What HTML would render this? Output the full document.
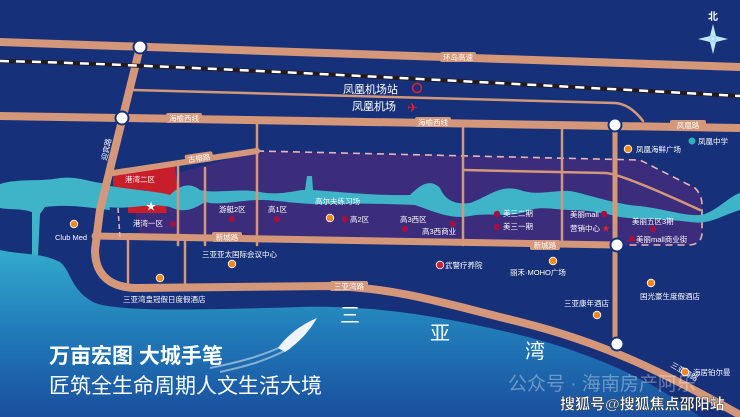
<!DOCTYPE html>
<html><head><meta charset="utf-8"><style>
html,body{margin:0;padding:0;background:#17307a;}
svg{display:block;font-family:"Liberation Sans","Noto Sans CJK SC",sans-serif;}
.l{fill:#fff;font-size:7.5px;}
.rl{fill:#fff;font-size:7.5px;}
</style></head><body>
<svg width="740" height="417" viewBox="0 0 740 417" xmlns="http://www.w3.org/2000/svg">
<defs>
<linearGradient id="sea" x1="0" y1="0" x2="0" y2="1">
<stop offset="0" stop-color="#33aacb"/><stop offset="0.5" stop-color="#207ab8"/><stop offset="1" stop-color="#1a4f9e"/>
</linearGradient>
<radialGradient id="cg"><stop offset="0" stop-color="#fff"/><stop offset="1" stop-color="#3fb0e0" stop-opacity="0"/></radialGradient>
</defs>
<rect width="740" height="417" fill="#17307a"/>
<path d="M0,184 C20,178 40,182 60,178 C80,176 95,184 105,183 L110,210 C90,208 70,204 45,207 L40,214 L38,255 L32,255 L32,212 C20,208 10,210 0,208 Z" fill="#3fb4c8"/>
<path d="M0,250 C20,255 40,252 60,262 C72,272 70,290 95,303 C120,312 200,310 300,307 C380,305 450,318 520,335 C600,355 660,385 700,417 L0,417 Z" fill="url(#sea)"/>
<path d="M178,173 L257,151 L640,160 L695,188 Q702,195 702,205 L702,232 Q702,244 690,245 L615,245 L140,238 L135,210 L178,200 Z" fill="#3b2d7c"/>
<path d="M257,151 L640,160 L695,188 Q702,195 702,205 L702,232 Q702,244 690,245 L625,245" fill="none" stroke="#e6b4b4" stroke-width="1.6" stroke-dasharray="7,5"/>
<path d="M113,172 L175,163 L178,198 L150,195 L145,190 L113,193 Z" fill="#c81e2c"/>
<path d="M128,205 C135,200 150,198 165,203 L167,213 L128,213 Z" fill="#c81e2c"/>
<path d="M105,185 C130,190 150,190 170,195 C180,185 190,182 200,190 C215,194 240,188 260,192 C280,196 295,190 305,190 L307,176 L312,176 L313,190 C340,192 380,196 410,195 C420,185 430,178 440,188 C445,200 455,205 470,203 C490,196 500,184 520,190 C540,197 560,188 575,192 C600,198 620,205 640,206 C670,210 690,218 705,214 C720,208 730,196 740,193 L740,210 C720,216 710,225 690,222 C660,218 640,220 620,217 C600,212 585,210 570,210 C555,210 540,205 525,212 C505,218 490,212 470,216 C450,220 430,210 415,205 C390,204 360,203 330,204 C300,205 280,200 260,200 C240,200 220,206 205,202 C190,212 180,212 170,207 C150,202 130,210 108,207 Z" fill="#3fb4c8"/>
<g stroke="#d4977a" fill="none" stroke-linecap="round">
<path d="M0,42 L740,67" stroke-width="8"/>
<path d="M0,116 L740,128" stroke-width="8"/>
<path d="M140,47 L100,210 L95,250 C95,275 110,287 135,288 L330,286 C400,288 450,305 520,322 C600,342 660,370 740,415" stroke-width="8"/>
<path d="M95,236 L615,245" stroke-width="7"/>
<path d="M113,173 L257,151" stroke-width="6"/>
<path d="M133,90 L615,103 Q630,104 643,121" stroke-width="2.5"/>
<path d="M615,125 L615,345" stroke-width="5"/>
<path d="M257,120 L257,245 M463,124 L463,245 M562,126 L562,245 M205,168 L205,245 M178,163 L178,245" stroke-width="2.5"/>
<path d="M463,170 L605,173 Q620,173 700,210" stroke-width="2.5"/>
<path d="M128,240 L128,287 M185,240 L185,287" stroke-width="2.5"/>
</g>
<path d="M118,208 L120,238" stroke="#e6b4b4" stroke-width="1.5" stroke-dasharray="5,3"/>
<path d="M0,61 C100,63 300,72 740,96" stroke="#231a1a" stroke-width="4" fill="none"/>
<path d="M0,61 C100,63 300,72 740,96" stroke="#fff" stroke-width="2.5" fill="none" stroke-dasharray="9,7"/>
<g fill="#fff" stroke="#17307a" stroke-width="2">
<circle cx="140" cy="47" r="6.5"/><circle cx="122" cy="118" r="6.5"/><circle cx="615" cy="125" r="6.5"/>
<circle cx="617" cy="245" r="6.5"/><circle cx="617" cy="344" r="6.5"/>
</g>
<g>
<rect x="440" y="52" width="36" height="10" rx="2" fill="#d4977a"/><text x="458" y="60" class="rl" text-anchor="middle">环岛高速</text>
<rect x="166" y="113" width="36" height="10" rx="2" fill="#d4977a"/><text x="184" y="121" class="rl" text-anchor="middle">海榆西线</text>
<rect x="415" y="117" width="36" height="10" rx="2" fill="#d4977a"/><text x="433" y="125" class="rl" text-anchor="middle">海榆西线</text>
<rect x="670" y="120" width="36" height="10" rx="2" fill="#d4977a"/><text x="688" y="128" class="rl" text-anchor="middle">凤凰路</text>
<rect x="185" y="153" width="28" height="10" rx="2" fill="#d4977a" transform="rotate(-8 199 158)"/><text x="199" y="161" class="rl" text-anchor="middle" transform="rotate(-8 199 158)">古榕路</text>
<rect x="212" y="232" width="30" height="10" rx="2" fill="#d4977a"/><text x="227" y="240" class="rl" text-anchor="middle">新城路</text>
<rect x="530" y="240" width="30" height="10" rx="2" fill="#d4977a"/><text x="545" y="248" class="rl" text-anchor="middle">新城路</text>
<rect x="330" y="281" width="38" height="10" rx="2" fill="#d4977a"/><text x="349" y="289" class="rl" text-anchor="middle">三亚湾路</text>
<text x="109" y="150" class="rl" font-size="7" transform="rotate(-78 109 150)" text-anchor="middle">迎宾路</text>
<text x="683" y="374" class="rl" font-size="7" transform="rotate(30 683 374)" text-anchor="middle">三亚湾路</text>
</g>
<text x="343" y="93" fill="#fff" font-size="11">凤凰机场站</text>
<circle cx="417" cy="88" r="4.5" fill="none" stroke="#e02030" stroke-width="1.5"/>
<text x="352" y="110" fill="#fff" font-size="11">凤凰机场</text>
<text x="407" y="112" fill="#e02030" font-size="13">✈</text>
<text x="713" y="20" fill="#fff" font-size="10" text-anchor="middle" font-weight="bold">北</text>
<path d="M713,24 L716,36 L728,39 L716,42 L713,54 L710,42 L698,39 L710,36 Z" fill="#bfe8ff"/>
<circle cx="713" cy="39" r="4" fill="url(#cg)"/>
<g class="l">
<text x="125" y="182" class="l" font-size="8.5">港湾二区</text>
<text x="146" y="210" fill="#fff" font-size="10">★</text>
<text x="133" y="226" class="l" font-size="8.5">港湾一区</text>
<text x="55" y="240" class="l" font-size="8">Club Med</text>
<text x="219" y="212" class="l">游艇2区</text>
<text x="268" y="212" class="l">高1区</text>
<text x="315" y="204" class="l">高尔夫练习场</text>
<text x="350" y="222" class="l">高2区</text>
<text x="400" y="222" class="l">高3西区</text>
<text x="422" y="234" class="l">高3西商业</text>
<text x="503" y="216" class="l">美三二期</text>
<text x="503" y="229" class="l">美三一期</text>
<text x="570" y="217" class="l">美丽mall</text>
<text x="570" y="231" class="l">营销中心</text>
<text x="602" y="231" fill="#e02030" font-size="8">★</text>
<text x="632" y="224" class="l">美丽五区3期</text>
<text x="636" y="242" class="l">美丽mall商业街</text>
<text x="202" y="257" class="l">三亚亚太国际会议中心</text>
<text x="123" y="302" class="l">三亚湾皇冠假日度假酒店</text>
<text x="445" y="268" class="l">武警疗养院</text>
<text x="510" y="275" class="l">丽禾·MOHO广场</text>
<text x="564" y="306" class="l">三亚康年酒店</text>
<text x="640" y="299" class="l">国光豪生度假酒店</text>
<text x="693" y="375" class="l">海居铂尔曼</text>
<text x="636" y="152" class="l">凤凰海鲜广场</text>
<text x="698" y="144" class="l">凤凰中学</text>
</g>
<g fill="#f08a1e" stroke="#fff" stroke-width="0.8">
<circle cx="74" cy="224" r="3.8"/><circle cx="160" cy="278" r="3.8"/><circle cx="232" cy="264" r="3.8"/>
<circle cx="330" cy="218" r="3.8"/><circle cx="553" cy="261" r="3.8"/><circle cx="597" cy="315" r="3.8"/>
<circle cx="651" cy="283" r="3.8"/><circle cx="685" cy="372" r="3.8"/><circle cx="628" cy="149" r="3.8"/>
</g>
<g fill="#a01040">
<circle cx="173" cy="224" r="3.2"/><circle cx="232" cy="219" r="3.2"/><circle cx="277" cy="219" r="3.2"/>
<circle cx="345" cy="219" r="3.2"/><circle cx="405" cy="229" r="3.2"/><circle cx="453" cy="224" r="3.2"/>
<circle cx="497" cy="214" r="3.2"/><circle cx="497" cy="227" r="3.2"/><circle cx="604" cy="214" r="3.2"/>
<circle cx="653" cy="229" r="3.2"/><circle cx="632" cy="239" r="3.2"/>
</g>
<circle cx="440" cy="265" r="3.8" fill="#d02030" stroke="#fff" stroke-width="0.8"/>
<circle cx="692" cy="141" r="3.5" fill="#30b0b8"/>
<text x="340" y="322" fill="#fff" font-size="20">三</text>
<text x="430" y="340" fill="#fff" font-size="20">亚</text>
<text x="525" y="358" fill="#fff" font-size="20">湾</text>
<path d="M210,368 C240,362 262,356 285,345 M220,372 C248,366 268,360 290,348" stroke="#d8eaf6" stroke-width="2" fill="none" opacity="0.55"/>
<path d="M278,348 C285,338 298,326 317,318 C310,330 300,342 285,352 Z" fill="#eef4fa"/>
<text x="49" y="363" fill="#fff" font-size="21" font-weight="bold">万亩宏图 大城手笔</text>
<text x="49" y="393" fill="#fff" font-size="21">匠筑全生命周期人文生活大境</text>
<text x="508" y="390" fill="#fff" fill-opacity="0.35" font-size="19">公众号 · 海南房产阿乐</text>
<text x="560" y="409" fill="#fff" font-size="15" font-weight="bold" stroke="#333" stroke-width="0.4">搜狐号@搜狐焦点邵阳站</text>
</svg>
</body></html>
